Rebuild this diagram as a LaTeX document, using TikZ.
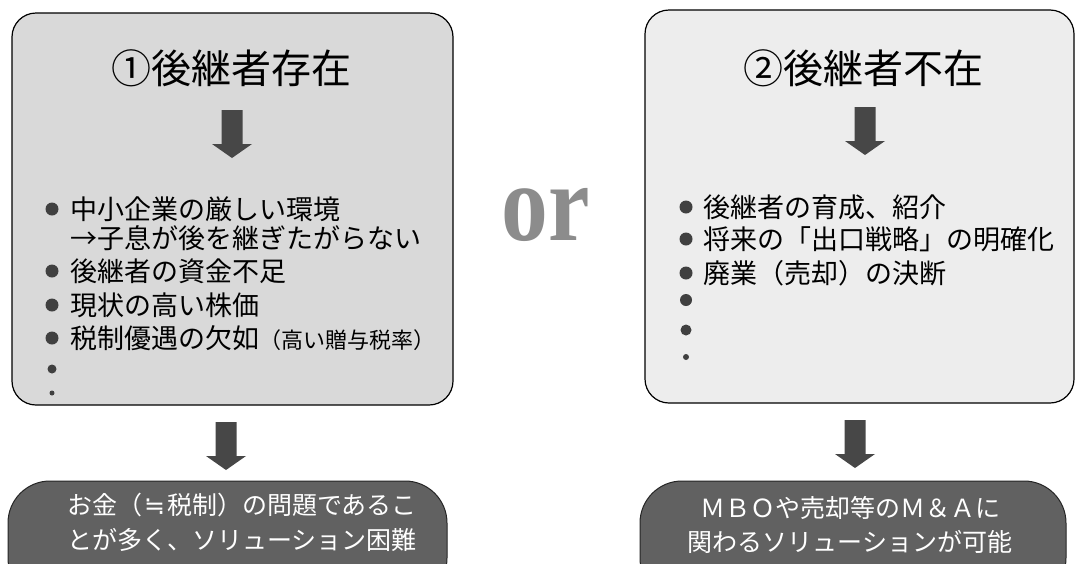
\documentclass[tikz,border=0pt]{standalone}
\usepackage{fontspec}
\newfontfamily\jp{Noto Sans CJK JP}
\newfontfamily\symfont{DejaVu Sans}
\newfontfamily\orfont{Liberation Serif}
\begin{document}
\begin{tikzpicture}[x=1pt,y=-1pt,
  panel/.style={draw=black, line width=1.2pt, rounded corners=24pt},
  outcome/.style={draw=black!85, line width=1pt, fill=black!62, rounded corners=42pt},
  title/.style={font=\jp\fontsize{40}{44}\selectfont, inner sep=0pt},
  item/.style={font=\jp\fontsize{27}{30}\selectfont, anchor=west, inner sep=0pt},
  otext/.style={font=\jp\fontsize{25}{28}\selectfont, text=white, inner sep=0pt},
  dot/.style={circle, fill=black!75, inner sep=0pt},
  blockarrow/.pic={\fill[black!72] (-10.5,0) -- (10.5,0) -- (10.5,34) -- (20,34) -- (0,48) -- (-20,34) -- (-10.5,34) -- cycle;}
]
\useasboundingbox (0,0) rectangle (1077,563);
\clip (0,0) rectangle (1077,563);

% panels
\draw[panel, fill=black!15] (12,13) rectangle (453,405);
\draw[panel, fill=black!7] (645,10) rectangle (1074,403);

% titles
\node[title] (t1) at (231,68) {①後継者存在};
\node[title] (t2) at (863,68) {②後継者不在};

% inner arrows
\pic at (232,110) {blockarrow};
\pic at (865,107) {blockarrow};

% left items
\node[dot, minimum size=13pt] (b1) at (52,209) {};
\node[item] (l1) at (70,209) {中小企業の厳しい環境};
\node[item] (l2) at (70,238) {→子息が後を継ぎたがらない};
\node[dot, minimum size=13pt] (b2) at (52,271) {};
\node[item] (l3) at (70,271) {後継者の資金不足};
\node[dot, minimum size=13pt] (b3) at (52,305) {};
\node[item] (l4) at (70,305) {現状の高い株価};
\node[dot, minimum size=13pt] (b4) at (52,338) {};
\node[item] (l5) at (70,338) {税制優遇の欠如{\fontsize{22}{24}\selectfont（高い贈与税率）}};
\node[dot, minimum size=9pt] (b5) at (52,369) {};
\node[dot, minimum size=5pt] (b6) at (52,393) {};

% right items
\node[dot, minimum size=13pt] (c1) at (686,207) {};
\node[item] (r1) at (703,207) {後継者の育成、紹介};
\node[dot, minimum size=13pt] (c2) at (686,239) {};
\node[item] (r2) at (703,239) {将来の「出口戦略」の明確化};
\node[dot, minimum size=13pt] (c3) at (686,273) {};
\node[item] (r3) at (703,273) {廃業（売却）の決断};
\node[dot, minimum size=12pt] (c4) at (686,300) {};
\node[dot, minimum size=11pt] (c5) at (686,330) {};
\node[dot, minimum size=6pt] (c6) at (686,357) {};

% or
\node[font=\orfont\bfseries\fontsize{110}{110}\selectfont, text=black!45, xscale=0.85, inner sep=0pt] (or) at (546,215) {or};

% bottom arrows
\pic at (226,422) {blockarrow};
\pic at (855,420) {blockarrow};

% outcomes
\draw[outcome] (8,481) rectangle (447,600);
\draw[outcome] (640,481) rectangle (1066,600);
\node[otext] (o1) at (242,505) {お金（\makebox[1em]{\symfont ≒}税制）の問題であるこ};
\node[otext] (o2) at (242,540) {とが多く、ソリューション困難};
\node[otext] (o3) at (850,508) {ＭＢＯや売却等のＭ＆Ａに};
\node[otext] (o4) at (850,542) {関わるソリューションが可能};
\end{tikzpicture}
\end{document}
